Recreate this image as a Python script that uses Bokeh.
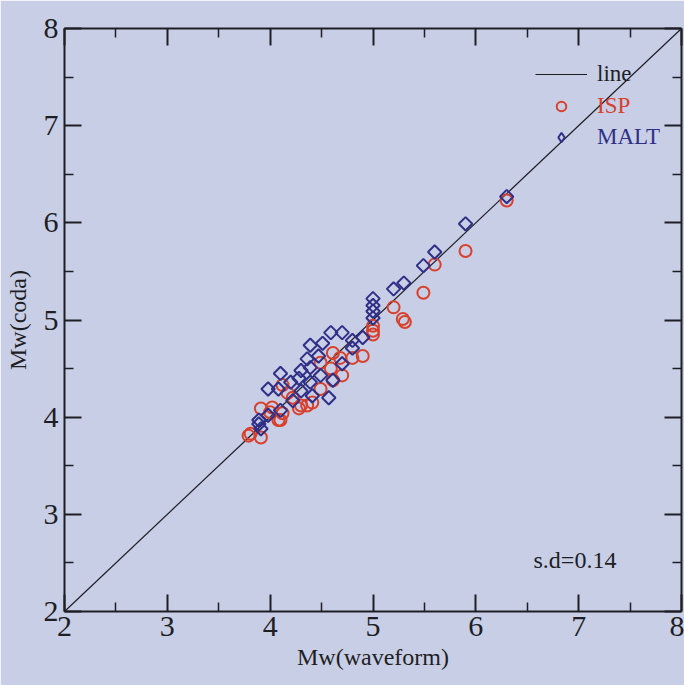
from math import pi

from bokeh.embed import file_html
from bokeh.models import FixedTicker, Label, Legend, LegendItem, LinearAxis, Range1d
from bokeh.plotting import figure
from bokeh.resources import INLINE

# Coda-derived vs. waveform moment magnitudes, two stations
isp_x = [6.30, 5.90, 5.60, 5.49, 5.20, 5.29, 5.31, 5.00, 5.00, 5.00, 4.90, 4.80,
         4.68, 4.61, 4.49, 4.59, 4.61, 4.70, 4.49, 4.12, 4.17, 4.41, 4.36, 4.30,
         4.28, 3.91, 4.02, 4.00, 4.10, 4.08, 3.79, 3.91, 3.81, 4.12, 4.22]
isp_y = [6.23, 5.71, 5.57, 5.28, 5.13, 5.01, 4.98, 4.94, 4.89, 4.85, 4.63, 4.61,
         4.61, 4.66, 4.56, 4.50, 4.38, 4.43, 4.29, 4.33, 4.25, 4.15, 4.12, 4.12,
         4.09, 4.09, 4.10, 4.05, 3.97, 3.97, 3.81, 3.79, 3.83, 4.04, 4.20]

malt_x = [6.30, 5.90, 5.60, 5.49, 5.30, 5.20, 5.00, 5.00, 5.00, 5.00, 4.90, 4.80,
          4.80, 4.59, 4.70, 4.39, 4.51, 4.47, 4.70, 4.49, 4.39, 4.30, 4.10, 4.20,
          4.39, 3.98, 4.08, 4.30, 4.41, 4.61, 4.22, 4.10, 3.98, 3.89, 3.91, 3.89,
          4.28, 4.36, 4.57]
malt_y = [6.27, 5.99, 5.70, 5.56, 5.38, 5.32, 5.22, 5.15, 5.09, 5.02, 4.82, 4.79,
          4.71, 4.87, 4.87, 4.74, 4.76, 4.63, 4.55, 4.43, 4.51, 4.48, 4.45, 4.36,
          4.36, 4.29, 4.29, 4.27, 4.22, 4.38, 4.17, 4.07, 4.02, 3.97, 3.88, 3.93,
          4.40, 4.60, 4.20]

# 1:1 reference line
line_x = [2, 8]
line_y = [2, 8]

major_ticks = [2, 3, 4, 5, 6, 7, 8]
minor_ticks = [2.5, 3.5, 4.5, 5.5, 6.5, 7.5]
sd_text = "s.d=0.14"

PAGE = "#c8cee6"
INK = "#1e1e24"
RED = "#d8402c"
BLUE = "#2f2f88"
SERIF = "Liberation Serif"

p = figure(width=684, height=685, x_range=Range1d(2, 8), y_range=Range1d(2, 8),
           output_backend="svg", toolbar_location=None,
           x_axis_label="Mw(waveform)", y_axis_label="Mw(coda)",
           min_border_left=64, min_border_right=3, min_border_top=28,
           min_border_bottom=74)
p.background_fill_color = PAGE
p.border_fill_color = PAGE
p.outline_line_color = None
p.xgrid.visible = False
p.ygrid.visible = False

# Mirror axes on top and right to close the frame (ticks only)
p.add_layout(LinearAxis(), "above")
p.add_layout(LinearAxis(), "right")

for ax in p.axis:
    ax.ticker = FixedTicker(ticks=major_ticks, minor_ticks=minor_ticks)
    ax.axis_line_color = INK
    ax.axis_line_width = 2
    ax.major_tick_line_color = INK
    ax.major_tick_line_width = 2
    ax.minor_tick_line_color = INK
    ax.minor_tick_line_width = 1.5
    ax.major_tick_in = 17
    ax.major_tick_out = 0
    ax.minor_tick_in = 9
    ax.minor_tick_out = 0
    ax.major_label_text_font = SERIF
    ax.major_label_text_font_size = "30px"
    ax.major_label_text_color = INK
    ax.axis_label_text_font = SERIF
    ax.axis_label_text_font_size = "24px"
    ax.axis_label_text_font_style = "normal"
    ax.axis_label_text_color = INK

for ax in p.above + p.right:
    ax.major_label_text_color = None
    ax.major_label_text_font_size = "1px"
    ax.major_label_standoff = 0
    ax.axis_label = None

p.xaxis[0].major_label_standoff = 8
p.xaxis[0].axis_label_standoff = 12
p.yaxis[0].major_label_standoff = 6
p.yaxis[0].axis_label_standoff = 10

ref = p.line(line_x, line_y, line_color=INK, line_width=1.2)
isp = p.scatter(isp_x, isp_y, marker="circle", size=12, fill_color=None,
                line_color=RED, line_width=2)
malt = p.scatter(malt_x, malt_y, marker="square", size=9.5, angle=pi / 4,
                 fill_color=None, line_color=BLUE, line_width=2)
# off-range renderer that only supplies the diamond symbol for the key
malt_key = p.scatter([float("nan")], [float("nan")], marker="diamond", size=11,
                     fill_color=None, line_color=BLUE, line_width=2)

# One small legend per entry so each label keeps its own colour
entries = [("line", ref, INK, 524), ("ISP", isp, RED, 492), ("MALT", malt_key, BLUE, 461)]
for label, rend, color, ypos in entries:
    lg = Legend(items=[LegendItem(label=label, renderers=[rend])],
                location=(471, ypos), orientation="vertical",
                border_line_alpha=0, background_fill_alpha=0,
                padding=0, margin=0, spacing=0,
                glyph_width=52, glyph_height=24, label_standoff=10,
                label_text_font=SERIF, label_text_font_size="23px",
                label_text_color=color)
    p.add_layout(lg)

p.add_layout(Label(x=469, y=52, x_units="screen", y_units="screen", text=sd_text,
                   text_font=SERIF, text_font_size="24px", text_color=INK,
                   text_baseline="middle"))

open("out.html", "w").write(file_html(p, INLINE))
